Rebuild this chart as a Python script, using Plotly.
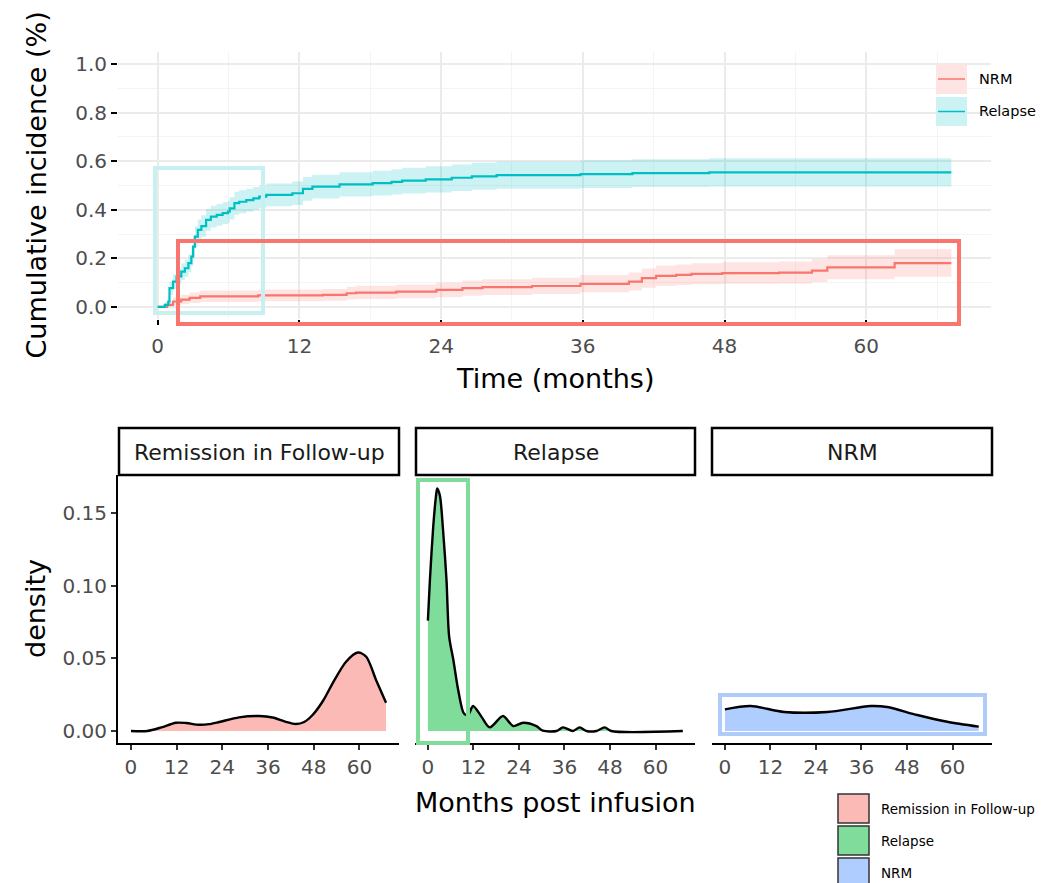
import plotly.graph_objects as go

# ---------------- data ----------------
# Cumulative incidence: Relapse
rel_t = [0, 0.6, 0.9, 1.0, 1.3, 1.6, 2.0, 2.3, 2.6, 2.85, 3.0, 3.15, 3.4, 3.7, 4.1, 4.5, 5.0, 5.5, 5.95, 6.1,
         6.5, 6.9, 7.5, 8.1, 8.6, 9.2, 11.4, 12.3, 13.1, 15.4, 18.2, 19.8, 20.7, 22.7, 24.9, 26.6, 28.7, 35.8,
         40.2, 46.7, 67.2]
rel_ci = [0, 0.008, 0.022, 0.077, 0.104, 0.125, 0.145, 0.159, 0.18, 0.207, 0.248, 0.289, 0.317, 0.333, 0.358,
          0.372, 0.379, 0.386, 0.392, 0.406, 0.427, 0.433, 0.44, 0.447, 0.454, 0.461, 0.468, 0.486, 0.495, 0.505,
          0.51, 0.515, 0.52, 0.525, 0.532, 0.538, 0.543, 0.547, 0.551, 0.554, 0.554]
rel_lo = [0, 0.0, 0.005, 0.05, 0.074, 0.093, 0.111, 0.124, 0.143, 0.168, 0.207, 0.247, 0.274, 0.289, 0.313,
          0.327, 0.334, 0.341, 0.347, 0.36, 0.38, 0.386, 0.393, 0.4, 0.407, 0.414, 0.42, 0.437, 0.446, 0.455,
          0.459, 0.463, 0.467, 0.471, 0.477, 0.482, 0.487, 0.49, 0.494, 0.496, 0.496]
rel_hi = [0, 0.02, 0.04, 0.104, 0.134, 0.157, 0.179, 0.194, 0.217, 0.246, 0.289, 0.331, 0.36, 0.377, 0.403,
          0.417, 0.424, 0.431, 0.437, 0.452, 0.474, 0.48, 0.487, 0.494, 0.501, 0.508, 0.516, 0.535, 0.544, 0.555,
          0.561, 0.567, 0.573, 0.579, 0.587, 0.594, 0.599, 0.604, 0.608, 0.612, 0.612]

# Cumulative incidence: NRM
nrm_t = [0, 0.8, 1.3, 2.0, 2.7, 3.6, 8.5, 14.0, 16.0, 16.8, 20.2, 23.6, 25.8, 27.5, 31.7, 35.8, 39.9, 41.0,
         42.2, 43.9, 45.2, 47.8, 52.6, 55.4, 56.7, 62.4, 67.2]
nrm_ci = [0, 0.008, 0.022, 0.03, 0.037, 0.043, 0.047, 0.049, 0.056, 0.059, 0.063, 0.07, 0.077, 0.081, 0.086,
          0.095, 0.104, 0.118, 0.128, 0.132, 0.136, 0.139, 0.141, 0.149, 0.163, 0.18, 0.18]
nrm_lo = [0, 0.0, 0.006, 0.011, 0.016, 0.02, 0.023, 0.025, 0.03, 0.032, 0.035, 0.04, 0.046, 0.049, 0.053,
          0.06, 0.067, 0.079, 0.087, 0.09, 0.093, 0.095, 0.096, 0.102, 0.114, 0.124, 0.124]
nrm_hi = [0, 0.02, 0.04, 0.05, 0.059, 0.067, 0.072, 0.074, 0.083, 0.087, 0.092, 0.1, 0.109, 0.114, 0.12,
          0.131, 0.142, 0.158, 0.17, 0.175, 0.18, 0.184, 0.187, 0.197, 0.213, 0.237, 0.237]

# Density: Remission in Follow-up
rem_dx = [0, 4.3, 8, 11.8, 14.5, 17.9, 20.5, 23.2, 28.4, 33.7, 37.2, 40.5, 43.3, 45.5, 47.7, 50.5, 53, 56.5,
          59.6, 61.8, 64.4, 67]
rem_dy = [0, 0, 0.0025, 0.0057, 0.0055, 0.0043, 0.0047, 0.0062, 0.0094, 0.0103, 0.0093, 0.0065, 0.0048,
          0.0062, 0.011, 0.021, 0.033, 0.0477, 0.054, 0.0511, 0.035, 0.0195]

# Density: Relapse
relap_dx = [0, 0.53, 1.4, 2.1, 2.45, 3.16, 4.0, 4.9, 5.6, 6.7, 8.0, 9.5, 10.6, 11.9, 14.1, 16.3, 19.8, 22.5,
            25.1, 28.6, 30.3, 33.9, 35.6, 38.2, 40.0, 41.8, 44.4, 46.6, 48.3, 67.2]
relap_dy = [0.076, 0.104, 0.1405, 0.161, 0.167, 0.162, 0.138, 0.104, 0.065, 0.049, 0.028, 0.012, 0.011, 0.0172,
            0.0099, 0.0025, 0.0103, 0.0034, 0.0057, 0.0034, 0.0002, 0.0, 0.0025, 0.0, 0.0025, 0.0, 0.0, 0.0025,
            0.0, 0.0]

# Density: NRM
nrmd_dx = [0, 6.8, 15.6, 27, 38.4, 42.8, 50.7, 58.6, 66.9]
nrmd_dy = [0.0149, 0.0172, 0.0131, 0.0131, 0.0172, 0.0165, 0.011, 0.0064, 0.003]

month_ticks = [0, 12, 24, 36, 48, 60]
month_labels = ["0", "12", "24", "36", "48", "60"]
ci_ticks = [0, 0.2, 0.4, 0.6, 0.8, 1.0]
ci_labels = ["0.0", "0.2", "0.4", "0.6", "0.8", "1.0"]
dens_ticks = [0, 0.05, 0.10, 0.15]
dens_labels = ["0.00", "0.05", "0.10", "0.15"]
facets = ["Remission in Follow-up", "Relapse", "NRM"]

# ---------------- styling ----------------
W, H = 1042, 883
FONT = "DejaVu Sans"
RED = "#F8766D"
CYAN = "#00BFC4"
RED_BAND = "rgba(248,118,109,0.2)"
CYAN_BAND = "rgba(0,191,196,0.2)"
FILL_COLS = ["#FBBAB6", "#7FDC9B", "#B0CDFF"]
TICK_FONT = dict(family=FONT, size=20, color="#4D4D4D")


def PX(x):
    return x / W


def PY(y):
    return 1 - y / H


fig = go.Figure()

# top: bands then lines
for t, lo, hi, col in [(nrm_t, nrm_lo, nrm_hi, RED_BAND), (rel_t, rel_lo, rel_hi, CYAN_BAND)]:
    fig.add_trace(go.Scatter(x=t, y=lo, mode="lines", line=dict(width=0, shape="hv"),
                             showlegend=False, hoverinfo="skip", xaxis="x", yaxis="y"))
    fig.add_trace(go.Scatter(x=t, y=hi, mode="lines", line=dict(width=0, shape="hv"), fill="tonexty",
                             fillcolor=col, showlegend=False, hoverinfo="skip", xaxis="x", yaxis="y"))
for t, ci, col, name in [(nrm_t, nrm_ci, RED, "NRM"), (rel_t, rel_ci, CYAN, "Relapse")]:
    fig.add_trace(go.Scatter(x=t, y=ci, mode="lines", line=dict(width=2.2, color=col, shape="hv"),
                             name=name, showlegend=False, xaxis="x", yaxis="y"))

# bottom densities
dens = [(rem_dx, rem_dy), (relap_dx, relap_dy), (nrmd_dx, nrmd_dy)]
for i, (dx, dy) in enumerate(dens):
    xa = "x%d" % (i + 2)
    ya = "y%d" % (i + 2)
    fig.add_trace(go.Scatter(x=dx, y=dy, mode="lines", fill="tozeroy", fillcolor=FILL_COLS[i],
                             line=dict(color="black", width=2.4, shape="spline", smoothing=0.8),
                             name=facets[i], showlegend=False, xaxis=xa, yaxis=ya))

layout = dict(
    width=W, height=H, margin=dict(l=0, r=0, t=0, b=0),
    paper_bgcolor="white", plot_bgcolor="white", showlegend=False,
    font=dict(family=FONT, color="black"),
)

layout["xaxis"] = dict(
    domain=[PX(118), PX(991)], anchor="y", range=[-3.36, 70.56],
    tickmode="array", tickvals=month_ticks, ticktext=month_labels, tickfont=TICK_FONT,
    ticks="outside", ticklen=5, tickwidth=1.5, tickcolor="black", ticklabelstandoff=4,
    showgrid=True, gridcolor="#EBEBEB", gridwidth=1.5, zeroline=False, showline=False,
    minor=dict(tickvals=[6, 18, 30, 42, 54, 66], showgrid=True, gridcolor="#F4F4F4", gridwidth=1, ticks=""),
)
layout["yaxis"] = dict(
    domain=[PY(319), PY(52)], anchor="x", range=[-0.05, 1.05],
    tickmode="array", tickvals=ci_ticks, ticktext=ci_labels, tickfont=TICK_FONT,
    ticks="outside", ticklen=6, tickwidth=1.8, tickcolor="black",
    showgrid=True, gridcolor="#EBEBEB", gridwidth=1.5, zeroline=False, showline=False,
    minor=dict(tickvals=[0.1, 0.3, 0.5, 0.7, 0.9], showgrid=True, gridcolor="#F4F4F4", gridwidth=1, ticks=""),
)

bx = [(118, 399), (415, 695), (712, 992)]
for i, (a, b) in enumerate(bx):
    k = i + 2
    layout["xaxis%d" % k] = dict(
        domain=[PX(a), PX(b)], anchor="y%d" % k, range=[-3.4, 70.4],
        tickmode="array", tickvals=month_ticks, ticktext=month_labels, tickfont=TICK_FONT,
        ticks="outside", ticklen=5, tickwidth=1.8, tickcolor="#333333",
        showgrid=False, zeroline=False, showline=True, linecolor="black", linewidth=2,
    )
    yd = dict(domain=[PY(743), PY(475)], anchor="x%d" % k, range=[-0.00826, 0.1762],
              showgrid=False, zeroline=False)
    if i == 0:
        yd.update(tickmode="array", tickvals=dens_ticks, ticktext=dens_labels, tickfont=TICK_FONT,
                  ticks="outside", ticklen=5, tickwidth=1.8, tickcolor="#333333",
                  showline=True, linecolor="black", linewidth=2)
    else:
        yd.update(showticklabels=False, ticks="", showline=False)
    layout["yaxis%d" % k] = yd

shapes = []
annotations = []


def rect(x0, y0, x1, y1, line_col, width, fill=None, layer="above"):
    d = dict(type="rect", xref="paper", yref="paper", x0=PX(x0), x1=PX(x1), y0=PY(y1), y1=PY(y0),
             line=dict(color=line_col, width=width), layer=layer)
    if fill:
        d["fillcolor"] = fill
    return d


# strips
strip_x = [(119, 399), (416, 695), (712, 992)]
for (a, b), lab in zip(strip_x, facets):
    shapes.append(rect(a, 428, b, 475, "black", 2.5, fill="white"))
    annotations.append(dict(x=PX((a + b) / 2), y=PY(452), xref="paper", yref="paper", text=lab,
                            showarrow=False, font=dict(family=FONT, size=22, color="#1A1A1A"),
                            xanchor="center", yanchor="middle"))

# highlight rectangles
shapes.append(rect(155, 168, 263, 313, "#C9F0F1", 4))
shapes.append(rect(178, 241, 959, 324, RED, 4))
shapes.append(rect(418, 480, 468, 743, "#7FDC9B", 4))
shapes.append(rect(720, 695, 985, 734, "#AECBFA", 4))

# top legend (manual)
for (y0, y1), band, col, lab in [((64, 94), "#FEE4E2", RED, "NRM"), ((97, 126), "#CCF2F3", CYAN, "Relapse")]:
    shapes.append(rect(936, y0, 967, y1, band, 0, fill=band))
    shapes.append(dict(type="line", xref="paper", yref="paper", x0=PX(938), x1=PX(965),
                       y0=PY((y0 + y1) / 2), y1=PY((y0 + y1) / 2), line=dict(color=col, width=1.5)))
    annotations.append(dict(x=PX(977), y=PY((y0 + y1) / 2), xref="paper", yref="paper", text=lab,
                            showarrow=False, font=dict(family=FONT, size=14.5, color="black"),
                            xanchor="left", yanchor="middle"))

# bottom legend (manual)
for (y0, y1), col, lab in zip([(794, 823), (826, 855), (858, 887)], FILL_COLS, facets):
    shapes.append(rect(838, y0, 869, y1, "#333333", 1.5, fill=col))
    annotations.append(dict(x=PX(879), y=PY((y0 + y1) / 2), xref="paper", yref="paper", text=lab,
                            showarrow=False, font=dict(family=FONT, size=13.5, color="black"),
                            xanchor="left", yanchor="middle"))

# axis titles
annotations.append(dict(x=PX(36), y=PY(185.5), xref="paper", yref="paper", text="Cumulative incidence (%)",
                        textangle=-90, showarrow=False, font=dict(family=FONT, size=27, color="black"),
                        xanchor="center", yanchor="middle"))
annotations.append(dict(x=PX(554.5), y=PY(378), xref="paper", yref="paper", text="Time (months)",
                        showarrow=False, font=dict(family=FONT, size=27, color="black"),
                        xanchor="center", yanchor="middle"))
annotations.append(dict(x=PX(35), y=PY(609), xref="paper", yref="paper", text="density",
                        textangle=-90, showarrow=False, font=dict(family=FONT, size=27, color="black"),
                        xanchor="center", yanchor="middle"))
annotations.append(dict(x=PX(555), y=PY(802), xref="paper", yref="paper", text="Months post infusion",
                        showarrow=False, font=dict(family=FONT, size=27, color="black"),
                        xanchor="center", yanchor="middle"))

layout["shapes"] = shapes
layout["annotations"] = annotations
fig.update_layout(**layout)

fig.write_html("out.html")
